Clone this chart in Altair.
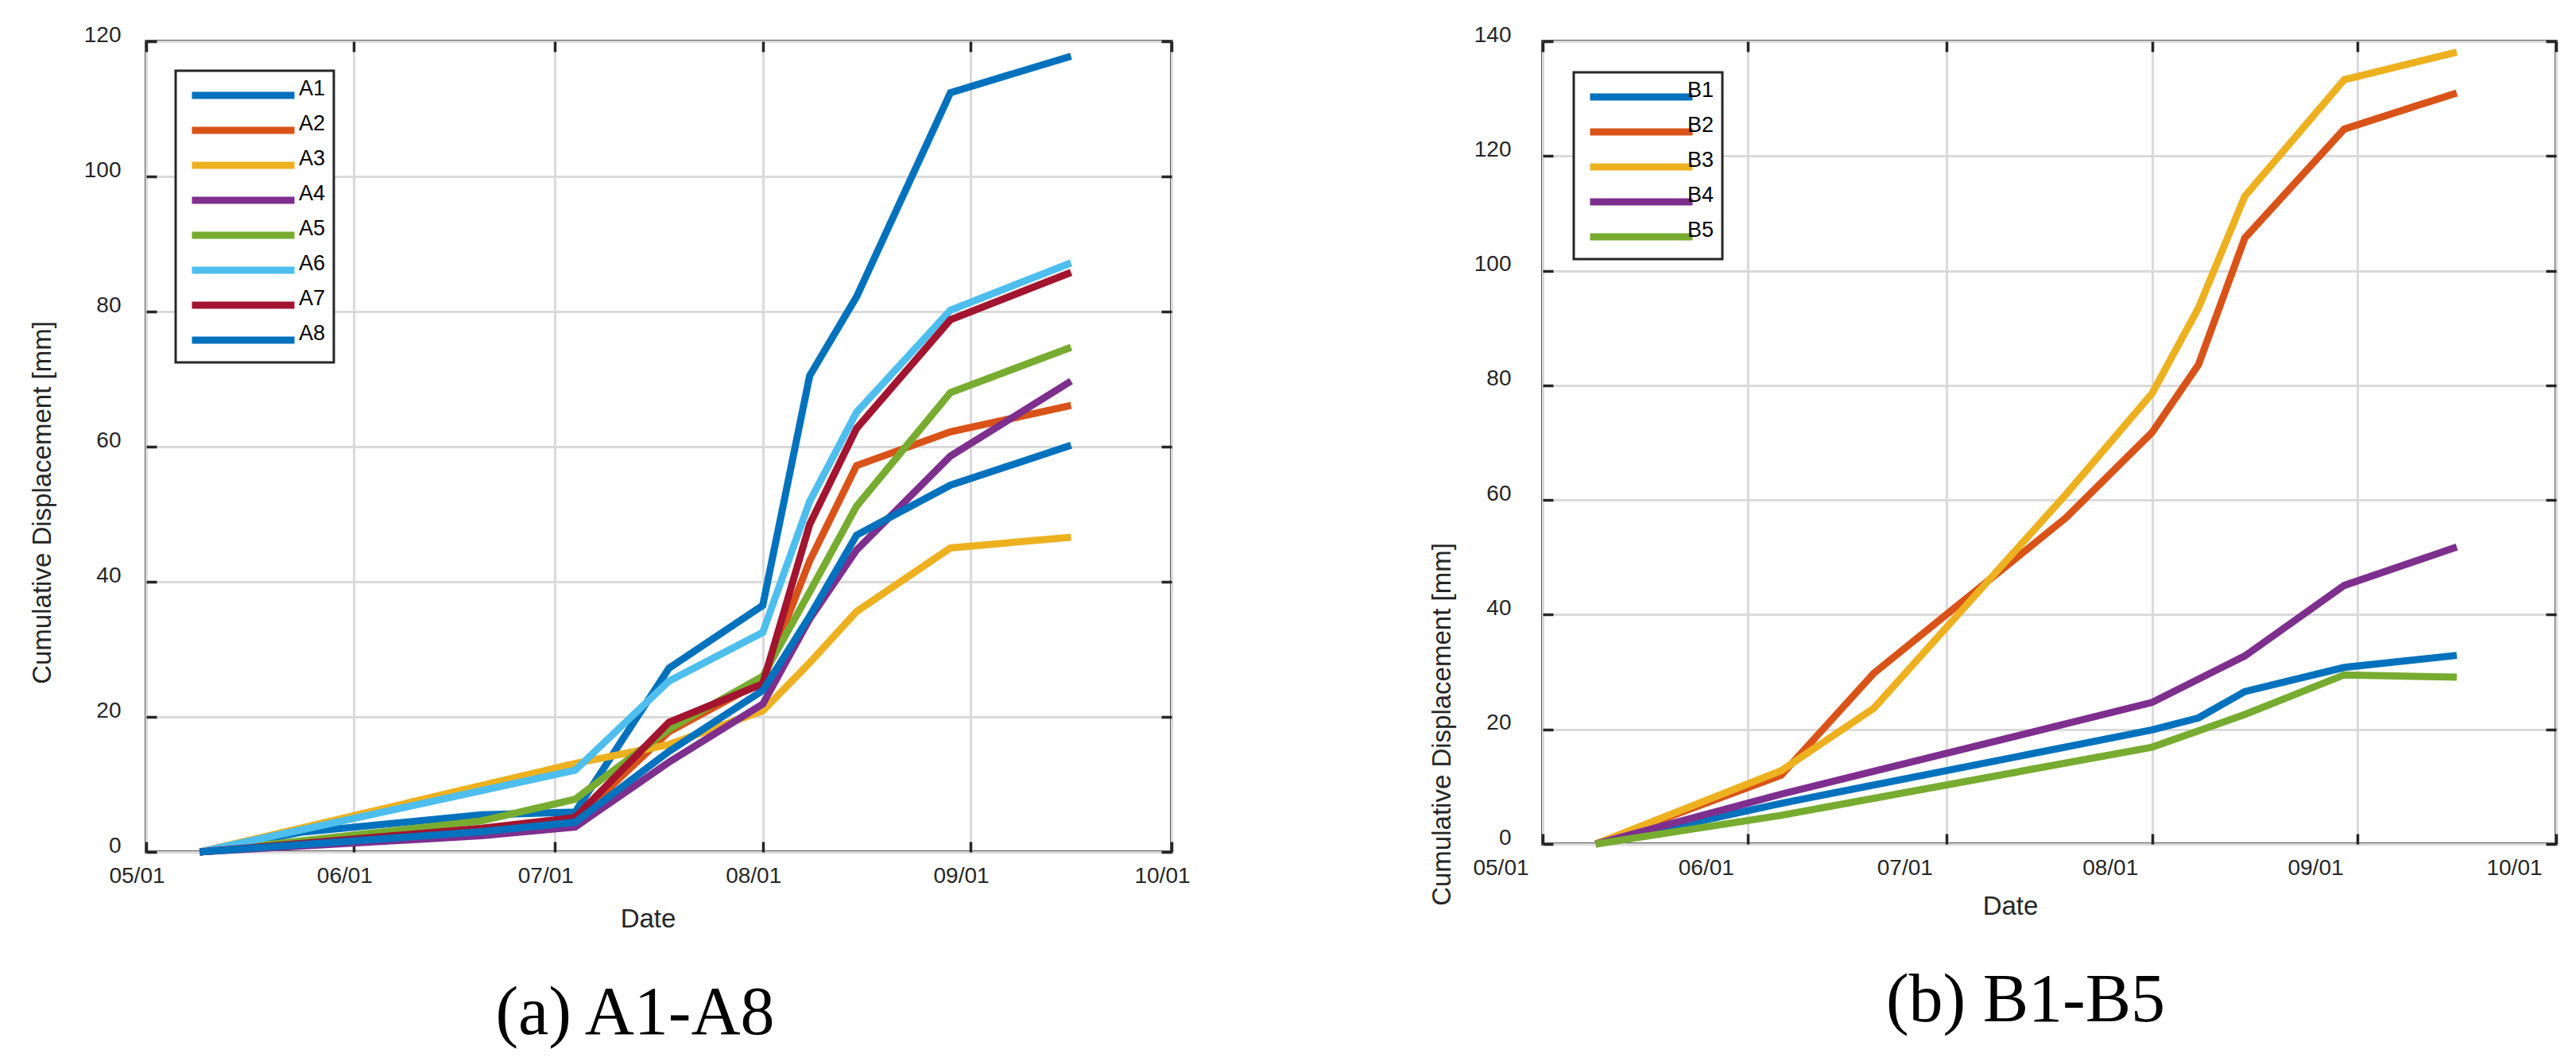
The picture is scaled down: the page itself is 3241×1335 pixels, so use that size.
import altair as alt
import pandas as pd

YEAR = "2021"

# ---- panel (a) ----
a_dates = ["05-09", "05-24", "06-20", "07-04", "07-18", "08-01", "08-08", "08-15", "08-29", "09-16"]
A1 = [0, 2.9, 5.5, 5.9, 27.2, 36.5, 70.5, 82.2, 112.4, 117.8]
A2 = [0, None, 3.3, 4.7, 17.8, 25.3, 43.1, 57.2, 62.2, 66.1]
A3 = [0, None, None, 13.1, 15.9, 20.9, 28.0, 35.6, 45.0, 46.6]
A4 = [0, None, 2.4, 3.7, 13.3, 21.9, 34.5, 44.7, 58.6, 69.7]
A5 = [0, None, 4.6, 7.8, 18.2, 26.0, 38.5, 51.2, 68.0, 74.7]
A6 = [0, None, None, 12.1, 25.3, 32.5, 51.9, 65.1, 80.2, 87.2]
A7 = [0, None, 3.5, 5.1, 19.2, 24.9, 48.5, 62.7, 78.8, 85.8]
A8 = [0, None, 3.0, 4.4, 14.9, 23.9, 34.9, 46.9, 54.3, 60.2]
a_names = ["A1", "A2", "A3", "A4", "A5", "A6", "A7", "A8"]
a_values = [A1, A2, A3, A4, A5, A6, A7, A8]

# ---- panel (b) ----
b_dates = ["05-09", "06-06", "06-20", "07-19", "08-01", "08-08", "08-15", "08-30", "09-16"]
B1 = [0, 7.1, None, None, 19.9, 22.0, 26.6, 30.8, 32.9]
B2 = [0, 12.0, 29.8, 56.9, 71.8, 83.6, 105.7, 124.7, 131.0]
B3 = [0, 12.8, 23.7, 61.0, 78.6, 93.5, 113.0, 133.3, 138.1]
B4 = [0, 8.7, None, None, 24.7, None, 32.8, 45.1, 51.8]
B5 = [0, 5.0, None, None, 16.9, None, 22.6, 29.5, 29.1]
b_names = ["B1", "B2", "B3", "B4", "B5"]
b_values = [B1, B2, B3, B4, B5]

colors = ["#0072BD", "#D95319", "#EDB120", "#7E2F8E", "#77AC30", "#4DBEEE", "#A2142F", "#0072BD"]
month_ticks = ["05-01", "06-01", "07-01", "08-01", "09-01", "10-01"]

INK = "#262626"
LW = 9


def ms(md):
    return int(pd.Timestamp(f"{YEAR}-{md}", tz="UTC").value // 10**6)


def table(dates, names, values):
    rows = []
    for name, vals in zip(names, values):
        for d, v in zip(dates, vals):
            if v is not None:
                rows.append({"date": f"{YEAR}-{d}", "series": name, "value": v})
    return pd.DataFrame(rows)


def panel(df, names, cols, ymax, w, h, lab_dx, date_x, date_y, ytitle_x, ytitle_y,
          ylab_pad, leg_offset, leg_label_offset, caption):
    xscale = alt.Scale(type="utc", domain=[ms("05-01"), ms("10-01")])
    yscale = alt.Scale(domain=[0, ymax], nice=False)
    xvals = [ms(m) for m in month_ticks]
    yvals = list(range(0, ymax + 1, 20))

    x = alt.X(
        "date:T", scale=xscale,
        axis=alt.Axis(
            values=xvals, labelExpr="utcFormat(datum.value, '%m/%d')",
            grid=True, ticks=False, domain=False, labelPadding=16, labelOffset=lab_dx,
            labelFlush=False,
            title="Date", titleX=date_x, titleY=date_y, titleBaseline="middle",
        ),
    )
    y = alt.Y(
        "value:Q", scale=yscale,
        axis=alt.Axis(
            values=yvals, grid=True, ticks=False, domain=False,
            labelBaseline="alphabetic", labelPadding=ylab_pad,
            title="Cumulative Displacement [mm]", titleX=ytitle_x, titleY=ytitle_y,
            titleBaseline="middle",
        ),
    )
    color = alt.Color(
        "series:N",
        scale=alt.Scale(domain=names, range=cols),
        legend=alt.Legend(
            title=None, orient="top-left", offset=leg_offset,
            symbolType="M-4,0H4", symbolSize=1040, symbolStrokeWidth=LW, symbolOffset=54,
            labelOffset=leg_label_offset, labelBaseline="alphabetic",
            labelFontSize=27, labelFont="Liberation Sans", labelColor="black",
            rowPadding=4, padding=10, strokeColor=INK, fillColor="white",
        ),
    )
    lines = alt.Chart(df).mark_line(strokeWidth=LW).encode(x=x, y=y, color=color)

    def tick_axis(orient, vals):
        return alt.Axis(orient=orient, offset=-13, values=vals, tickSize=13, ticks=True,
                        labels=False, domain=False, grid=False, title=None)

    ticks_a = alt.Chart(df).mark_point(opacity=0).encode(
        x=alt.X("date:T", scale=xscale, axis=tick_axis("bottom", xvals)),
        y=alt.Y("value:Q", scale=yscale, axis=tick_axis("left", yvals)),
    )
    ticks_b = alt.Chart(df).mark_point(opacity=0).encode(
        x=alt.X("date:T", scale=xscale, axis=tick_axis("top", xvals)),
        y=alt.Y("value:Q", scale=yscale, axis=tick_axis("right", yvals)),
    )
    return alt.layer(lines, ticks_a, ticks_b).resolve_axis(
        x="independent", y="independent"
    ).properties(
        width=w, height=h,
        title=alt.Title(caption, orient="bottom", font="Liberation Serif", fontSize=86,
                        fontWeight="normal", color="black", offset=60, dx=-30, anchor="middle"),
    )


left = panel(table(a_dates, a_names, a_values), a_names, colors, 120, 1290, 1020,
             -12, 631, 84, -131, 580, 32, 37, 49, "(a) A1-A8")
right = panel(table(b_dates, b_names, b_values), b_names, colors[:5], 140, 1275, 1010,
              -53, 588, 78, -127, 859, 40, 39, 37, "(b) B1-B5")

chart = alt.hconcat(left, right, spacing=297).resolve_scale(
    color="independent"
).properties(
    padding={"left": 27, "top": 20, "right": 5, "bottom": 5}
).configure_view(
    stroke=INK, strokeWidth=3.5
).configure_axis(
    labelFont="Liberation Sans", labelFontSize=28, labelColor=INK,
    titleFont="Liberation Sans", titleFontSize=33, titleFontWeight="normal", titleColor=INK,
    gridColor="#dadada", gridWidth=3, tickColor=INK, tickWidth=3.5,
).configure_legend(
    strokeWidth=3
)

chart.save("out.html", embed_options={"renderer": "svg", "actions": False})
